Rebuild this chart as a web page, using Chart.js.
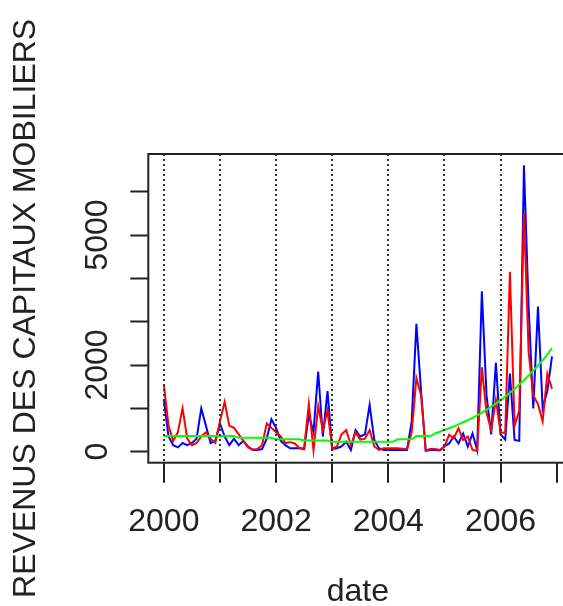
<!DOCTYPE html>
<html>
<head>
<meta charset="utf-8">
<title>Revenus des capitaux mobiliers</title>
<script src="https://cdn.jsdelivr.net/npm/chart.js@4.4.1/dist/chart.umd.min.js"></script>
<style>
  html, body { margin: 0; padding: 0; background: #fff; overflow: hidden; }
  canvas { display: block; }
</style>
</head>
<body>
<canvas id="revenusChart" width="600" height="606"></canvas>
<script>
// monthly series, Jan 2000 .. Dec 2006
var startYear = 2000;

var blueValues = [
  1200, 350, 150, 100, 200, 150, 200, 300, 1000, 600, 200, 250,     // 2000
  650, 350, 150, 300, 150, 250, 120, 40, 40, 60, 300, 750,          // 2001
  550, 250, 150, 80, 80, 80, 60, 850, 450, 1850, 350, 1400,         // 2002
  60, 80, 120, 230, 40, 500, 350, 400, 1080, 270, 80, 40,           // 2003
  40, 40, 40, 40, 40, 700, 2950, 1400, 20, 40, 40, 30,              // 2004
  120, 190, 350, 190, 420, 120, 420, 40, 3700, 1300, 400, 2050,     // 2005
  400, 280, 1800, 270, 250, 6610, 3350, 1000, 3350, 1000, 1400, 2200 // 2006
];

var redValues = [
  1550, 600, 250, 450, 1000, 300, 150, 200, 350, 450, 300, 200,     // 2000
  700, 1150, 600, 550, 400, 250, 100, 50, 60, 150, 650, 550,        // 2001
  450, 350, 200, 220, 190, 80, 80, 1100, 30, 1050, 500, 950,        // 2002
  70, 120, 400, 500, 150, 450, 280, 300, 500, 120, 40, 80,          // 2003
  80, 80, 80, 70, 60, 450, 1700, 1300, 30, 60, 60, 40,              // 2004
  120, 390, 310, 540, 270, 350, 40, 20, 1950, 900, 500, 1200,       // 2005
  450, 430, 4150, 600, 950, 5500, 2300, 1300, 1100, 700, 1800, 1450 // 2006
];

var trendValues = [
  360, 360, 360, 360, 360, 360, 360, 360, 360, 360, 360, 360,
  360, 360, 360, 360, 320, 320, 320, 320, 320, 320, 320, 320,
  285, 285, 285, 285, 285, 285, 260, 260, 260, 260, 260, 260,
  230, 230, 230, 230, 230, 230, 230, 230, 230, 230, 230, 230,
  230, 230, 285, 285, 285, 285, 360, 360, 360, 360, 420, 460,
  500, 540, 580, 630, 680, 730, 780, 840, 900, 970, 1040, 1110,
  1190, 1270, 1360, 1450, 1550, 1650, 1760, 1870, 1990, 2110, 2240, 2390
];

var yTicks = [0, 1000, 2000, 3000, 4000, 5000, 6000];
var yTickLabels = [0, 2000, 5000];
var xTicks = [2000, 2001, 2002, 2003, 2004, 2005, 2006, 2007];
var xTickLabels = [2000, 2002, 2004, 2006];
var dottedYears = [2000, 2001, 2002, 2003, 2004, 2005, 2006];

var ink = '#222';
var fontFamily = '"Liberation Sans", Arial, sans-serif';

function toPoints(values) {
  return values.map(function (v, i) {
    return { x: startYear + i / 12, y: v };
  });
}

// frame around the plotting region
var plotBox = {
  id: 'plotBox',
  afterDraw: function (chart) {
    var a = chart.chartArea;
    var ctx = chart.ctx;
    ctx.save();
    ctx.strokeStyle = ink;
    ctx.lineWidth = 2;
    ctx.strokeRect(a.left, a.top, a.right - a.left, a.bottom - a.top);
    ctx.restore();
  }
};

var chart = new Chart(document.getElementById('revenusChart'), {
  type: 'line',
  data: {
    datasets: [{
      label: 'tendance',
      data: toPoints(trendValues),
      borderColor: '#00ff00',
      borderWidth: 2,
      pointRadius: 0,
      order: 1
    }, {
      label: 'série rouge',
      data: toPoints(redValues),
      borderColor: '#ff0000',
      borderWidth: 2,
      pointRadius: 0,
      order: 2
    }, {
      label: 'série bleue',
      data: toPoints(blueValues),
      borderColor: '#0000ff',
      borderWidth: 2,
      pointRadius: 0,
      order: 3
    }]
  },
  options: {
    responsive: false,
    animation: false,
    layout: { padding: { top: 154, right: 32.5, left: 0, bottom: 0 } },
    plugins: {
      legend: { display: false },
      tooltip: { enabled: false }
    },
    scales: {
      x: {
        type: 'linear',
        min: 1999.723,
        max: 2007.193,
        afterBuildTicks: function (scale) {
          scale.ticks = xTicks.map(function (v) { return { value: v }; });
        },
        afterFit: function (scale) { scale.height = 143.3; },
        ticks: {
          autoSkip: false,
          maxRotation: 0,
          minRotation: 0,
          padding: 23,
          color: ink,
          font: { family: fontFamily, size: 32, lineHeight: 1 },
          callback: function (v) {
            return xTickLabels.indexOf(v) >= 0 ? String(v) : '';
          }
        },
        grid: {
          z: 1,
          lineWidth: 2,
          color: function (c) {
            return c.tick && dottedYears.indexOf(c.tick.value) >= 0 ? '#333' : 'rgba(0,0,0,0)';
          },
          tickLength: 20,
          tickColor: ink,
          tickWidth: 2,
          tickBorderDash: []
        },
        border: { display: false, dash: [2, 3] },
        title: {
          display: true,
          text: 'date',
          color: ink,
          font: { family: fontFamily, size: 32, lineHeight: 1 },
          padding: { top: 0, bottom: -2 }
        }
      },
      y: {
        min: -254,
        max: 6870,
        afterBuildTicks: function (scale) {
          scale.ticks = yTicks.map(function (v) { return { value: v }; });
        },
        afterFit: function (scale) { scale.width = 148.3; },
        ticks: {
          autoSkip: false,
          minRotation: 90,
          maxRotation: 90,
          crossAlign: 'center',
          padding: -3,
          color: ink,
          font: { family: fontFamily, size: 32, lineHeight: 1 },
          callback: function (v) {
            return yTickLabels.indexOf(v) >= 0 ? String(v) : '';
          }
        },
        grid: {
          drawOnChartArea: false,
          tickLength: 18,
          tickColor: ink,
          tickWidth: 2
        },
        border: { display: false },
        title: {
          display: true,
          text: 'REVENUS DES CAPITAUX MOBILIERS',
          color: ink,
          font: { family: fontFamily, size: 32, lineHeight: 1 },
          padding: { top: 10, bottom: 0 }
        }
      }
    }
  },
  plugins: [plotBox]
});
</script>
</body>
</html>
